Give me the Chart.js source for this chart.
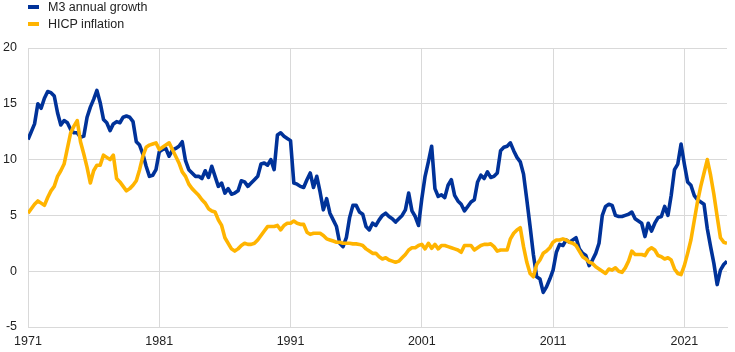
<!DOCTYPE html>
<html>
<head>
<meta charset="utf-8">
<script src="https://cdn.jsdelivr.net/npm/chart.js@4.4.1/dist/chart.umd.min.js"></script>
<style>
  html, body { margin: 0; padding: 0; background: #fff; }
  #wrap { position: relative; width: 735px; height: 352px; }
  #legend { position: absolute; left: 28px; top: 0; font-family: "Liberation Sans", Arial, sans-serif; font-size: 12.5px; color: #222; }
  .item { position: relative; height: 17px; line-height: 15px; padding-left: 20px; }
  .sw { position: absolute; left: 0; top: 5px; width: 11px; height: 4px; }
</style>
</head>
<body>
<div id="wrap">
  <canvas id="c" width="735" height="352"></canvas>
  <div id="legend"></div>
</div>
<script>
// Categories: quarterly observations starting 1971 Q1
const startYear = 1971;
const tickYears = [1971, 1981, 1991, 2001, 2011, 2021];
const yTicks = [-5, 0, 5, 10, 15, 20];
const seriesNames = ['M3 annual growth', 'HICP inflation'];
const seriesColors = ['#003299', '#FFB400'];

// M3 annual growth (%), quarterly
const m3Growth = [
  11.8, 12.5, 13.2, 15.0,   // 1971
  14.6, 15.5, 16.1, 16.0,   // 1972
  15.7, 14.2, 13.1, 13.5,   // 1973
  13.3, 12.7, 12.4, 12.4,   // 1974
  12.0, 12.1, 13.8, 14.7,   // 1975
  15.4, 16.2, 15.1, 13.6,   // 1976
  13.3, 12.6, 13.2, 13.4,   // 1977
  13.3, 13.8, 13.9, 13.8,   // 1978
  13.4, 11.6, 11.3, 10.5,   // 1979
  9.4, 8.5, 8.6, 9.1,       // 1980
  10.7, 10.9, 11.0, 10.3,   // 1981
  10.85, 11.0, 11.2, 11.6,  // 1982
  9.9, 9.1, 8.8, 8.5,       // 1983
  8.5, 8.3, 9.0, 8.4,       // 1984
  9.4, 8.5, 7.6, 7.9,       // 1985
  7.0, 7.4, 6.9, 7.0,       // 1986
  7.2, 8.1, 8.0, 7.6,       // 1987
  7.9, 8.2, 8.5, 9.6,       // 1988
  9.7, 9.5, 10.0, 9.1,      // 1989
  12.2, 12.4, 12.1, 11.9,   // 1990
  11.7, 7.9, 7.8, 7.6,      // 1991
  7.5, 8.2, 8.8, 7.5,       // 1992
  8.5, 7.1, 5.5, 6.5,       // 1993
  5.2, 4.6, 4.0, 2.5,       // 1994
  2.2, 3.0, 4.8, 5.9,       // 1995
  5.9, 5.3, 5.1, 4.0,       // 1996
  3.7, 4.3, 4.1, 4.6,       // 1997
  5.0, 5.2, 4.9, 4.7,       // 1998
  4.4, 4.7, 5.0, 5.5,       // 1999
  7.0, 5.4, 4.9, 4.1,       // 2000
  6.5, 8.5, 9.8, 11.2,      // 2001
  7.4, 6.7, 6.85, 6.6,      // 2002
  7.7, 8.2, 6.8, 6.3,       // 2003
  6.0, 5.4, 5.8, 6.2,       // 2004
  6.4, 8.0, 8.6, 8.3,       // 2005
  8.9, 8.4, 8.5, 8.8,       // 2006
  10.8, 11.1, 11.2, 11.5,   // 2007
  10.8, 10.2, 9.8, 8.7,     // 2008
  6.4, 4.0, 1.5, -0.5,      // 2009
  -0.7, -1.9, -1.4, -0.7,   // 2010
  0.1, 1.7, 2.4, 2.3,       // 2011
  2.8, 2.6, 2.8, 3.0,       // 2012
  2.0, 1.6, 1.4, 0.5,       // 2013
  1.0, 1.6, 2.5, 5.0,       // 2014
  5.8, 6.0, 5.9, 5.0,       // 2015
  4.9, 4.9, 5.0, 5.1,       // 2016
  5.3, 4.7, 4.5, 4.3,       // 2017
  3.1, 4.3, 3.6, 4.3,       // 2018
  4.8, 4.9, 5.8, 5.0,       // 2019
  6.8, 9.1, 9.6, 11.4,      // 2020
  9.6, 8.0, 7.7, 6.8,       // 2021
  6.4, 6.2, 6.0, 3.8,       // 2022
  2.2, 0.7, -1.2, 0.1,      // 2023
  0.6, 0.9                  // 2024
];

// HICP inflation (%), quarterly
const hicpInflation = [
  5.2, 5.6, 6.0, 6.3,       // 1971
  6.1, 5.9, 6.6, 7.2,       // 1972
  7.6, 8.5, 9.0, 9.6,       // 1973
  11.0, 12.4, 13.0, 13.5,   // 1974
  11.6, 10.5, 9.3, 7.9,     // 1975
  9.0, 9.5, 9.5, 10.4,      // 1976
  10.2, 10.0, 10.4, 8.3,    // 1977
  8.0, 7.6, 7.2, 7.4,       // 1978
  7.7, 8.1, 9.1, 10.3,      // 1979
  11.1, 11.3, 11.4, 11.5,   // 1980
  10.9, 11.1, 11.3, 11.5,   // 1981
  10.9, 10.3, 9.7, 8.9,     // 1982
  8.5, 7.8, 7.4, 7.1,       // 1983
  6.8, 6.4, 6.1, 5.6,       // 1984
  5.4, 5.3, 4.6, 4.1,       // 1985
  3.0, 2.5, 2.0, 1.8,       // 1986
  2.0, 2.3, 2.5, 2.4,       // 1987
  2.4, 2.5, 2.8, 3.2,       // 1988
  3.6, 4.0, 4.0, 4.0,       // 1989
  4.1, 3.7, 4.1, 4.3,       // 1990
  4.3, 4.5, 4.3, 4.2,       // 1991
  4.2, 3.5, 3.3, 3.4,       // 1992
  3.4, 3.4, 3.2, 2.9,       // 1993
  2.8, 2.7, 2.6, 2.6,       // 1994
  2.5, 2.5, 2.5, 2.45,      // 1995
  2.45, 2.4, 2.3, 2.0,      // 1996
  1.8, 1.6, 1.6, 1.3,       // 1997
  1.1, 1.2, 1.0, 0.9,       // 1998
  0.8, 0.9, 1.2, 1.5,       // 1999
  1.9, 2.1, 2.1, 2.3,       // 2000
  2.4, 2.0, 2.5, 2.05,      // 2001
  2.4, 2.0, 2.3, 2.3,       // 2002
  2.2, 2.1, 2.0, 1.9,       // 2003
  1.7, 2.3, 2.3, 2.3,       // 2004
  1.9, 2.1, 2.3, 2.4,       // 2005
  2.4, 2.45, 2.2, 1.8,      // 2006
  1.9, 1.9, 1.9, 2.9,       // 2007
  3.4, 3.7, 3.9, 2.2,       // 2008
  0.8, -0.2, -0.5, 0.6,     // 2009
  1.0, 1.6, 1.8, 2.1,       // 2010
  2.6, 2.8, 2.8, 2.9,       // 2011
  2.8, 2.6, 2.5, 2.3,       // 2012
  1.8, 1.3, 1.1, 0.8,       // 2013
  0.7, 0.4, 0.2, 0.0,       // 2014
  -0.2, 0.2, 0.1, 0.3,      // 2015
  0.0, -0.1, 0.3, 0.9,      // 2016
  1.8, 1.5, 1.5, 1.5,       // 2017
  1.4, 1.9, 2.1, 1.9,       // 2018
  1.4, 1.3, 1.1, 1.2,       // 2019
  1.0, 0.2, -0.2, -0.3,     // 2020
  0.5, 1.6, 2.8, 4.5,       // 2021
  6.2, 7.6, 8.8, 10.0,      // 2022
  8.6, 6.9, 4.9, 3.0,       // 2023
  2.6, 2.5                  // 2024
];

const quarterX = m3Growth.map((_, i) => startYear + i / 4);
const toPoints = arr => arr.map((v, i) => ({ x: quarterX[i], y: v }));

// HTML legend
const legendEl = document.getElementById('legend');
seriesNames.forEach((name, i) => {
  const d = document.createElement('div');
  d.className = 'item';
  const sw = document.createElement('span');
  sw.className = 'sw';
  sw.style.background = seriesColors[i];
  d.appendChild(sw);
  d.appendChild(document.createTextNode(name));
  legendEl.appendChild(d);
});

const FONT = { family: '"Liberation Sans", Arial, sans-serif', size: 12.5 };
const GRID = '#d9d9d9';

new Chart(document.getElementById('c'), {
  type: 'line',
  data: {
    datasets: [
      { label: seriesNames[0], data: toPoints(m3Growth), borderColor: seriesColors[0], backgroundColor: seriesColors[0], borderWidth: 3.6, pointRadius: 0, tension: 0, borderJoinStyle: 'round', order: 1 },
      { label: seriesNames[1], data: toPoints(hicpInflation), borderColor: seriesColors[1], backgroundColor: seriesColors[1], borderWidth: 3.6, pointRadius: 0, tension: 0, borderJoinStyle: 'round', order: 0 }
    ]
  },
  options: {
    responsive: false,
    animation: false,
    events: [],
    layout: { padding: { top: 48, right: 8, left: 0, bottom: 0 } },
    plugins: { legend: { display: false }, tooltip: { enabled: false } },
    scales: {
      x: {
        type: 'linear',
        min: startYear,
        max: quarterX[quarterX.length - 1],
        afterBuildTicks: s => { s.ticks = tickYears.map(v => ({ value: v })); },
        afterFit: s => { s.height = 25; },
        ticks: { color: '#222', font: FONT, padding: 7, maxRotation: 0, autoSkip: false, callback: v => String(v) },
        grid: { color: GRID, lineWidth: 1, drawTicks: false },
        border: { color: GRID, width: 1 }
      },
      y: {
        min: -5,
        max: 20,
        afterBuildTicks: s => { s.ticks = yTicks.map(v => ({ value: v })); },
        afterFit: s => { s.width = 28; },
        ticks: { color: '#222', font: FONT, padding: 11 },
        grid: { color: GRID, lineWidth: 1, drawTicks: false },
        border: { color: GRID, width: 1 }
      }
    }
  }
});
</script>
</body>
</html>
